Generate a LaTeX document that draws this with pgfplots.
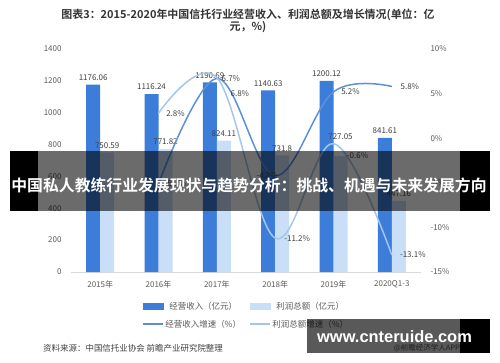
\documentclass[border=0pt]{standalone}
\usepackage{pgfplots}
\pgfplotsset{compat=1.18}
\usepackage{fontspec}
\setmainfont{Noto Sans CJK SC}[BoldFont={Noto Sans CJK SC Bold}]
\newfontfamily\urlfont{Liberation Sans}
\definecolor{barDark}{HTML}{3C7DD9}
\definecolor{barLight}{HTML}{C9DFF7}
\definecolor{lineRev}{HTML}{5E90D6}
\definecolor{lineProf}{HTML}{A3C6EB}
\definecolor{txt}{HTML}{595959}
\definecolor{lbl}{HTML}{404040}
\definecolor{axisgrey}{HTML}{D9D9D9}

\begin{document}
\begin{tikzpicture}
% ---------- bars ----------
\begin{axis}[
  at={(0,0)}, anchor=south west, scale only axis,
  width=350bp, height=223bp,
  xmin=-0.5, xmax=5.5, ymin=0, ymax=1400,
  ybar=0pt, bar width=14bp,
  axis x line*=bottom, axis y line*=left,
  x axis line style={-, draw=axisgrey, line width=0.8bp},
  y axis line style={draw=none},
  major tick length=0pt,
  xtick={0,1,2,3,4,5},
  xticklabels={2015年,2016年,2017年,2018年,2019年,2020Q1-3},
  ytick={0,200,...,1400},
  /pgf/number format/assume math mode=true,
  /pgf/number format/1000 sep={},
  tick label style={font=\fontsize{8}{9}\selectfont, text=txt},
  yticklabel style={xshift=-6bp},
  xticklabel style={yshift=-5bp},
  clip=false,
]
\addplot[fill=barDark, draw=none] coordinates {(0,1176.06) (1,1116.24) (2,1190.69) (3,1140.63) (4,1200.12) (5,841.61)};
\addplot[fill=barLight, draw=none] coordinates {(0,750.59) (1,771.82) (2,824.11) (3,731.8) (4,727.05) (5,447.16)};
\tikzset{blab/.style={font=\fontsize{8}{9}\selectfont, text=lbl, anchor=south, inner sep=0pt, yshift=4bp}}
\node[blab, xshift=-7bp] at (axis cs:0,1176.06) {1176.06};
\node[blab, xshift=-7bp] at (axis cs:1,1116.24) {1116.24};
\node[blab, xshift=-7bp] at (axis cs:2,1190.69) {1190.69};
\node[blab, xshift=-7bp] at (axis cs:3,1140.63) {1140.63};
\node[blab, xshift=-7bp] at (axis cs:4,1200.12) {1200.12};
\node[blab, xshift=-7bp] at (axis cs:5,841.61) {841.61};
\node[blab, xshift=7bp] at (axis cs:0,750.59) {750.59};
\node[blab, xshift=7bp] at (axis cs:1,771.82) {771.82};
\node[blab, xshift=7bp] at (axis cs:2,824.11) {824.11};
\node[blab, xshift=7bp] at (axis cs:3,731.8) {731.8};
\node[blab, xshift=7bp, yshift=12bp] at (axis cs:4,727.05) {727.05};
\node[blab, xshift=7bp] at (axis cs:5,447.16) {447.16};
\coordinate (O) at (rel axis cs:0,0);
\end{axis}

% ---------- lines ----------
\begin{axis}[
  at={(0,0)}, anchor=south west, scale only axis,
  width=350bp, height=223bp,
  xmin=-0.5, xmax=5.5, ymin=-15, ymax=10,
  axis x line=none, axis y line*=right,
  y axis line style={draw=none},
  major tick length=0pt,
  ytick={-15,-10,...,10},
  /pgf/number format/assume math mode=true,
  yticklabel={\pgfmathprintnumber{\tick}\%},
  tick label style={font=\fontsize{8}{9}\selectfont, text=txt},
  yticklabel style={xshift=6bp},
  clip=false,
  legend columns=2,
  legend style={at={(0.5,-0.125)}, anchor=north, draw=none, fill=none,
    font=\fontsize{8.5}{10}\selectfont, text=txt, inner sep=0pt,
    row sep=5bp,
    /tikz/every even column/.append style={column sep=6bp}},
]
\addlegendimage{legend image code/.code={\fill[barDark] (0bp,-3bp) rectangle (20bp,3bp);}}
\addlegendentry{经营收入（亿元）}
\addlegendimage{legend image code/.code={\fill[barLight] (0bp,-3bp) rectangle (20bp,3bp);}}
\addlegendentry{利润总额（亿元）}
\addplot[color=lineRev, line width=1.5bp, smooth, tension=0.6, no markers,
  legend image code/.code={\draw[lineRev, line width=1.5bp] (0bp,0bp) -- (20bp,0bp);}]
  coordinates {(1,-5.1) (2,6.7) (3,-4.2) (4,5.2) (5,5.8)};
\addlegendentry{经营收入增速（\%）}
\addplot[color=lineProf, line width=1.5bp, smooth, tension=0.6, no markers,
  legend image code/.code={\draw[lineProf, line width=1.5bp] (0bp,0bp) -- (20bp,0bp);}]
  coordinates {(1,2.8) (2,6.8) (3,-11.2) (4,-0.6) (5,-13.1)};
\addlegendentry{利润总额增速（\%）}
\tikzset{llab/.style={font=\fontsize{8}{9}\selectfont, text=lbl, inner sep=0pt}}
\node[llab, xshift=17bp] at (axis cs:1,-5.1) {-5.1\%};
\node[llab, xshift=14bp] at (axis cs:2,6.7) {6.7\%};
\node[llab, xshift=-8bp] at (axis cs:3,-4.2) {-4.2\%};
\node[llab, xshift=17bp] at (axis cs:4,5.2) {5.2\%};
\node[llab, xshift=18bp] at (axis cs:5,5.8) {5.8\%};
\node[llab, xshift=17bp] at (axis cs:1,2.8) {2.8\%};
\node[llab, xshift=23bp, yshift=-16bp] at (axis cs:2,6.8) {6.8\%};
\node[llab, xshift=22bp] at (axis cs:3,-11.2) {-11.2\%};
\node[llab, xshift=24bp, yshift=-12bp] at (axis cs:4,-0.6) {-0.6\%};
\node[llab, xshift=21bp] at (axis cs:5,-13.1) {-13.1\%};
\end{axis}

\begin{scope}[shift={(O)}, x=1bp, y=1bp, shift={(-71,-90)}]
% title
\node[font=\fontsize{11}{12.5}\selectfont\bfseries, text=black!80, align=center] at (248,341) {图表3：2015-2020年中国信托行业经营收入、利润总额及增长情况(单位：亿\\元，\%)};
% source
\node[anchor=west, font=\fontsize{8.5}{10}\selectfont, text=lbl, inner sep=0pt] at (43,14) {资料来源：中国信托业协会 前瞻产业研究院整理};
\node[anchor=east, font=\fontsize{7.5}{9}\selectfont, text=txt, inner sep=0pt] at (460,14) {@前瞻经济学人APP};
% overlays
\fill[black, opacity=0.58] (38,151) rectangle (460,211);
\fill[black] (10,151) rectangle (38,211);
\fill[black] (460,151) rectangle (490,211);
\node[text=white, font=\fontsize{15.9}{16}\selectfont\bfseries, inner sep=0pt] at (249,177) {中国私人教练行业发展现状与趋势分析：挑战、机遇与未来发展方向};
\fill[black, opacity=0.65] (307,9) rectangle (460,43);
\fill[black] (460,9) rectangle (490,43);
\node[text=white, font=\urlfont\fontsize{16.5}{17}\selectfont\bfseries, anchor=base west, inner sep=0pt] at (317,20) {www.cnteruide.com};
\pgfresetboundingbox
\path[use as bounding box] (0,0) rectangle (500,362);
\end{scope}
\end{tikzpicture}
\end{document}
